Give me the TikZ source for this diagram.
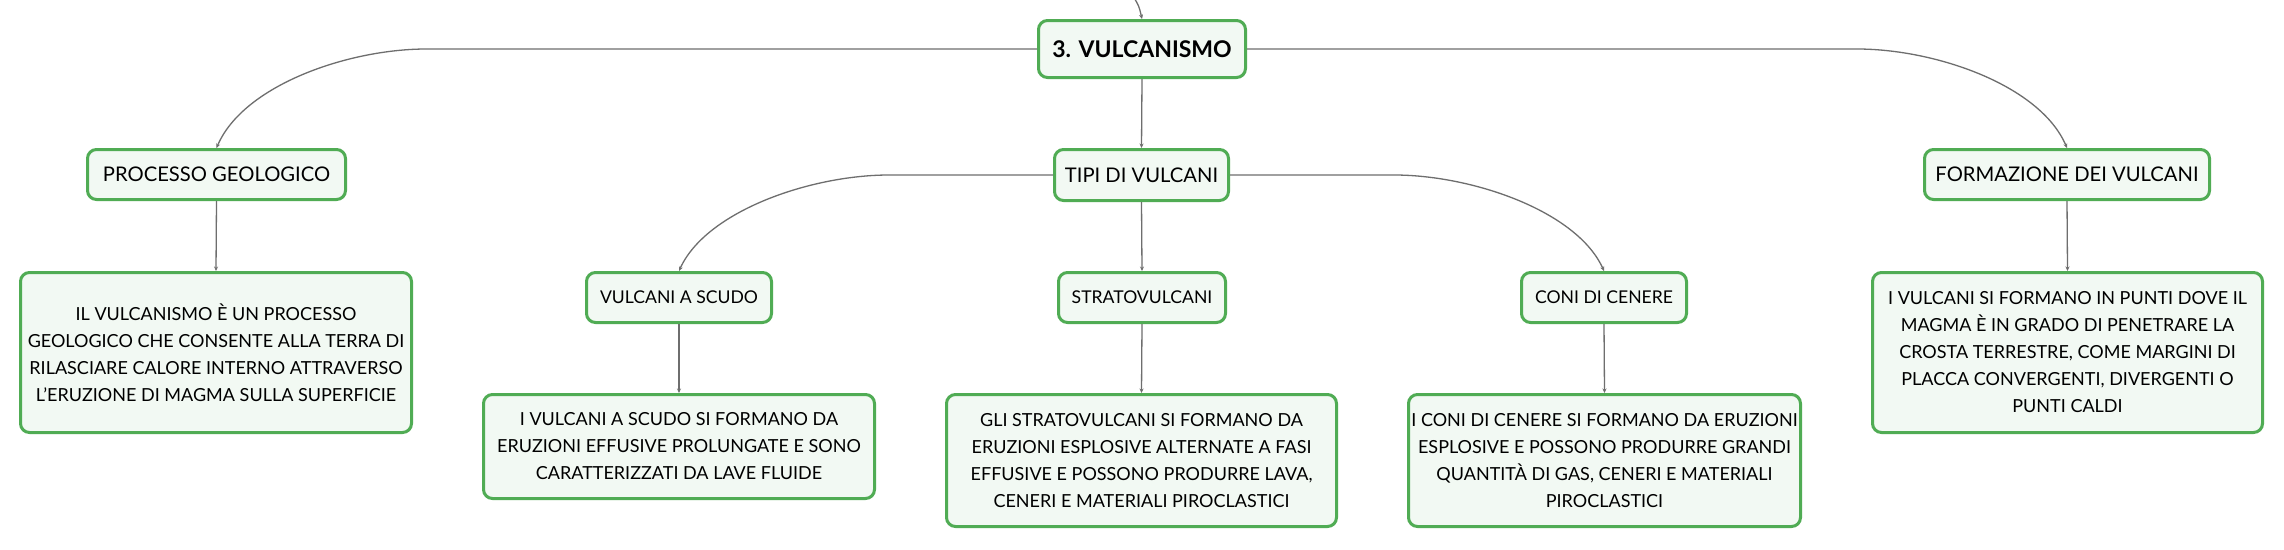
\documentclass[tikz,border=0pt]{standalone}
\usepackage{fontspec}
\setmainfont{Lato}
\usetikzlibrary{arrows.meta,calc}
\definecolor{boxgreen}{RGB}{80,172,84}
\definecolor{boxfill}{RGB}{242,249,243}
\definecolor{linegray}{RGB}{110,110,110}
\tikzset{
  box/.style={draw=boxgreen, line width=3pt, fill=boxfill, rounded corners=9pt, align=center, inner sep=0pt, text=black},
  lvlone/.style={box, font=\fontsize{20.2}{24}\selectfont},
  lvltwo/.style={box, font=\fontsize{17.6}{21}\selectfont},
  descbox/.style={box, font=\fontsize{18}{27}\selectfont},
  conn/.style={draw=linegray, line width=1.3pt, -{Stealth[length=4.5pt,width=4pt]}}
}
\begin{document}
\begin{tikzpicture}[x=1pt,y=-1pt]
\useasboundingbox[fill=white] (0,0) rectangle (2284,549);
% nodes
\node[box, font=\bfseries\fontsize{23}{27}\selectfont, minimum width=207pt, minimum height=57pt] (root) at (1142,49) {3. VULCANISMO};
\node[lvlone, minimum width=258pt, minimum height=50pt] (proc) at (216.5,174.5) {PROCESSO GEOLOGICO};
\node[lvlone, minimum width=174pt, minimum height=51pt] (tipi) at (1141.5,175) {TIPI DI VULCANI};
\node[lvlone, minimum width=285pt, minimum height=50pt] (form) at (2067,174.5) {FORMAZIONE DEI VULCANI};
\node[lvltwo, minimum width=185pt, minimum height=50pt] (scudo) at (679,297.5) {VULCANI A SCUDO};
\node[lvltwo, minimum width=167pt, minimum height=50pt] (strato) at (1142,297.5) {STRATOVULCANI};
\node[lvltwo, minimum width=165pt, minimum height=50pt] (coni) at (1604,297.5) {CONI DI CENERE};
\node[descbox, minimum width=391pt, minimum height=160pt] (procd) at (216,352.5) {IL VULCANISMO È UN PROCESSO\\GEOLOGICO CHE CONSENTE ALLA TERRA DI\\RILASCIARE CALORE INTERNO ATTRAVERSO\\L'ERUZIONE DI MAGMA SULLA SUPERFICIE};
\node[descbox, minimum width=390pt, minimum height=160pt] (formd) at (2067.5,352.5) {I VULCANI SI FORMANO IN PUNTI DOVE IL\\MAGMA È IN GRADO DI PENETRARE LA\\CROSTA TERRESTRE, COME MARGINI DI\\PLACCA CONVERGENTI, DIVERGENTI O\\PUNTI CALDI};
\node[descbox, minimum width=391pt, minimum height=104pt] (scudod) at (679,446.5) {I VULCANI A SCUDO SI FORMANO DA\\ERUZIONI EFFUSIVE PROLUNGATE E SONO\\CARATTERIZZATI DA LAVE FLUIDE};
\node[descbox, minimum width=390pt, minimum height=132pt] (stratod) at (1141.5,460.5) {GLI STRATOVULCANI SI FORMANO DA\\ERUZIONI ESPLOSIVE ALTERNATE A FASI\\EFFUSIVE E POSSONO PRODURRE LAVA,\\CENERI E MATERIALI PIROCLASTICI};
\node[descbox, minimum width=392pt, minimum height=132pt] (conid) at (1604.5,460.5) {I CONI DI CENERE SI FORMANO DA ERUZIONI\\ESPLOSIVE E POSSONO PRODURRE GRANDI\\QUANTITÀ DI GAS, CENERI E MATERIALI\\PIROCLASTICI};
% incoming connector from above
\coordinate (topin) at (1133,-4);
\draw[conn] (topin) .. controls (1139,6) .. (root.north);
% level 1
\draw[conn] (root.west) -- ([xshift=210pt]proc.north |- root.west) .. controls ([xshift=132pt]proc.north |- root.west) and ([xshift=27pt,yshift=63pt]proc.north) .. (proc.north);
\draw[conn] (root.east) -- ([xshift=-210pt]form.north |- root.east) .. controls ([xshift=-132pt]form.north |- root.east) and ([xshift=-27pt,yshift=63pt]form.north) .. (form.north);
\draw[conn] (root.south) -- (tipi.north);
\draw[conn] (proc.south) -- (procd.north);
\draw[conn] (form.south) -- (formd.north);
% level 2
\draw[conn] (tipi.west) -- ([xshift=210pt]scudo.north |- tipi.west) .. controls ([xshift=132pt]scudo.north |- tipi.west) and ([xshift=27pt,yshift=60pt]scudo.north) .. (scudo.north);
\draw[conn] (tipi.east) -- ([xshift=-210pt]coni.north |- tipi.east) .. controls ([xshift=-132pt]coni.north |- tipi.east) and ([xshift=-27pt,yshift=60pt]coni.north) .. (coni.north);
\draw[conn] (tipi.south) -- (strato.north);
\draw[conn] (scudo.south) -- (scudod.north);
\draw[conn] (strato.south) -- (stratod.north);
\draw[conn] (coni.south) -- (conid.north);
\end{tikzpicture}
\end{document}
